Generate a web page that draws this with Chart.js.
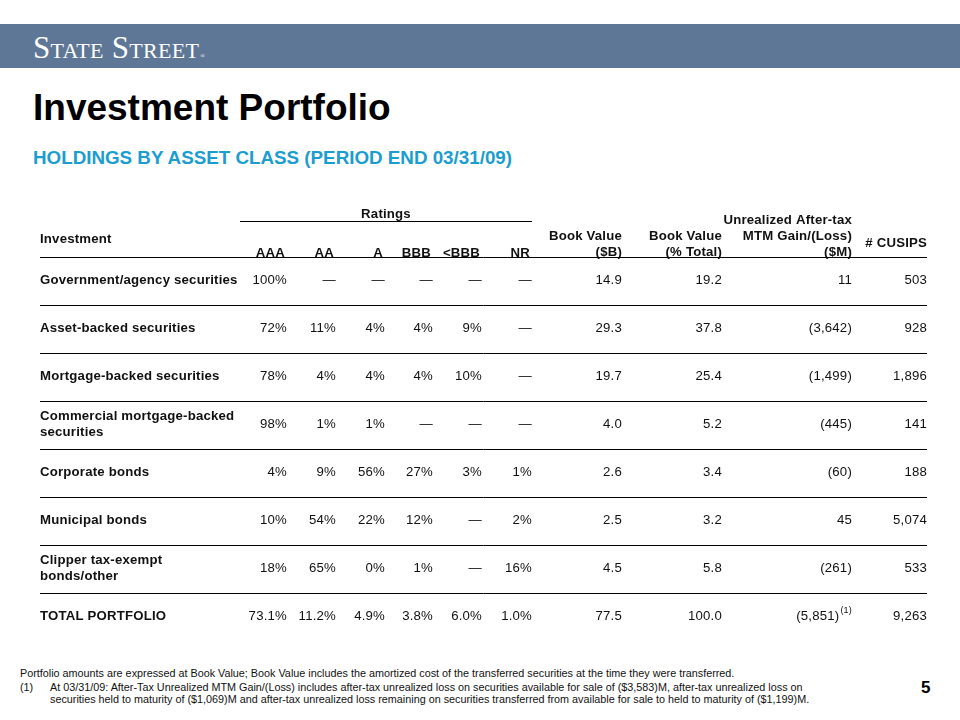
<!DOCTYPE html>
<html>
<head>
<meta charset="utf-8">
<script src="https://cdn.jsdelivr.net/npm/chart.js@4.4.1/dist/chart.umd.min.js"></script>
<style>
  html, body { margin:0; padding:0; background:#fff; }
  body { width:960px; height:720px; position:relative; overflow:hidden; font-family:"Liberation Sans", Arial, sans-serif; color:#111; }
  #band { position:absolute; left:0; top:24px; width:960px; height:44px; background:#5E7796; }
  #logo { position:absolute; left:33px; top:32px; font-family:"Liberation Serif","Times New Roman",serif; font-variant:small-caps; font-size:31px; line-height:31px; color:#fff; letter-spacing:0.3px; white-space:nowrap; }
  #logo .r { font-size:6px; font-variant:normal; vertical-align:baseline; margin-left:1px; }
  #title { position:absolute; left:33px; top:89px; font-size:37px; line-height:37px; font-weight:bold; color:#000; white-space:nowrap; }
  #subtitle { position:absolute; left:33px; top:148px; font-size:18.8px; line-height:19px; font-weight:bold; color:#1B9DD0; white-space:nowrap; }
  #chartWrap { position:absolute; left:0; top:190px; width:960px; height:460px; }
  .fn { position:absolute; font-size:10.8px; line-height:12px; color:#111; white-space:nowrap; }
  #page { position:absolute; left:921px; top:679px; font-size:17px; line-height:17px; font-weight:bold; color:#000; }
</style>
</head>
<body>
<div id="band"></div>
<div id="logo">State Street<span class="r">®</span></div>
<div id="title">Investment Portfolio</div>
<div id="subtitle">HOLDINGS BY ASSET CLASS (PERIOD END 03/31/09)</div>
<div id="chartWrap"><canvas id="c" width="960" height="460"></canvas></div>
<div class="fn" style="left:20px;top:667px;">Portfolio amounts are expressed at Book Value; Book Value includes the amortized cost of the transferred securities at the time they were transferred.</div>
<div class="fn" style="left:20px;top:681px;">(1)</div>
<div class="fn" style="left:50px;top:681px;">At 03/31/09: After-Tax Unrealized MTM Gain/(Loss) includes after-tax unrealized loss on securities available for sale of ($3,583)M, after-tax unrealized loss on</div>
<div class="fn" style="left:50px;top:693px;">securities held to maturity of ($1,069)M and after-tax unrealized loss remaining on securities transferred from available for sale to held to maturity of ($1,199)M.</div>
<div id="page">5</div>
<script>
// ---------- DATA ----------
const categories = [
  "Government/agency securities",
  "Asset-backed securities",
  "Mortgage-backed securities",
  "Commercial mortgage-backed securities",
  "Corporate bonds",
  "Municipal bonds",
  "Clipper tax-exempt bonds/other",
  "TOTAL PORTFOLIO"
];
const categoryLines = [
  ["Government/agency securities"],
  ["Asset-backed securities"],
  ["Mortgage-backed securities"],
  ["Commercial mortgage-backed", "securities"],
  ["Corporate bonds"],
  ["Municipal bonds"],
  ["Clipper tax-exempt", "bonds/other"],
  ["TOTAL PORTFOLIO"]
];
const ratingLabels = ["AAA", "AA", "A", "BBB", "<BBB", "NR"];
const ratingAAA  = [100, 72, 78, 98, 4, 10, 18, 73.1];
const ratingAA   = [null, 11, 4, 1, 9, 54, 65, 11.2];
const ratingA    = [null, 4, 4, 1, 56, 22, 0, 4.9];
const ratingBBB  = [null, 4, 4, null, 27, 12, 1, 3.8];
const ratingLtBBB = [null, 9, 10, null, 3, null, null, 6.0];
const ratingNR   = [null, null, null, null, 1, 2, 16, 1.0];
const bookValueB   = [14.9, 29.3, 19.7, 4.0, 2.6, 2.5, 4.5, 77.5];
const bookValuePct = [19.2, 37.8, 25.4, 5.2, 3.4, 3.2, 5.8, 100.0];
const mtmGainLoss  = [11, -3642, -1499, -445, -60, 45, -261, -5851];
const cusips       = [503, 928, 1896, 141, 188, 5074, 533, 9263];
const headerBookB   = ["Book Value", "($B)"];
const headerBookPct = ["Book Value", "(% Total)"];
const headerMtm     = ["Unrealized After-tax", "MTM Gain/(Loss)", "($M)"];
const headerCusips  = ["# CUSIPS"];
const headerRatings = "Ratings";
const headerInvestment = "Investment";
const totalFootnoteMark = "(1)";

// ---------- LAYOUT (positions along the x scale) ----------
const COLX = { label:40, ratingsStart:240, AAA:287, AA:336, A:385, BBB:433, LtBBB:482, NR:532, bookB:622, bookPct:722, mtm:852, cusips:927 };
const TOTAL_ROW = categories.length - 1;

// ---------- FORMATTERS ----------
const dash = "\u2014";
const fmtPct = (v, i) => v == null ? dash : (i === TOTAL_ROW ? v.toFixed(1) : String(v)) + "%";
const fmt1 = v => v.toFixed(1);
const fmtMtm = v => v < 0 ? "(" + Math.abs(v).toLocaleString("en-US") + ")" : v.toLocaleString("en-US");
const fmtInt = v => v.toLocaleString("en-US");

const valueColumns = [
  { key:"AAA",   values:ratingAAA,   fmt:fmtPct },
  { key:"AA",    values:ratingAA,    fmt:fmtPct },
  { key:"A",     values:ratingA,     fmt:fmtPct },
  { key:"BBB",   values:ratingBBB,   fmt:fmtPct },
  { key:"LtBBB", values:ratingLtBBB, fmt:fmtPct },
  { key:"NR",    values:ratingNR,    fmt:fmtPct },
  { key:"bookB", values:bookValueB,  fmt:fmt1 },
  { key:"bookPct", values:bookValuePct, fmt:fmt1 },
  { key:"mtm",   values:mtmGainLoss, fmt:fmtMtm },
  { key:"cusips", values:cusips,     fmt:fmtInt }
];

const datasets = [{
  label: "Investment",
  kind: "label",
  data: categories.map((c, i) => ({ x: COLX.label, y: i })),
  pointRadius: 0
}].concat(valueColumns.map(col => ({
  label: col.key,
  kind: "value",
  colKey: col.key,
  fmt: col.fmt,
  raw: col.values,
  data: col.values.map((v, i) => ({ x: COLX[col.key], y: i })),
  pointRadius: 0
})));

const FONT = '"Liberation Sans", Arial, sans-serif';
const TEXT = "#111";
const BOLD = "bold 13.2px " + FONT;
const REG = "13.2px " + FONT;

const tablePlugin = {
  id: "tableText",
  afterDatasetsDraw(chart) {
    const ctx = chart.ctx;
    const xs = chart.scales.x;
    const T = chart.chartArea.top;
    ctx.save();
    ctx.fillStyle = TEXT;
    ctx.textBaseline = "middle";
    if ("letterSpacing" in ctx) ctx.letterSpacing = "0.2px";

    // header
    ctx.font = BOLD;
    const rl = xs.getPixelForValue(COLX.ratingsStart), rr = xs.getPixelForValue(COLX.NR);
    ctx.textAlign = "center";
    ctx.fillText(headerRatings, (rl + rr) / 2, T - 43);
    ctx.strokeStyle = "#000";
    ctx.lineWidth = 1;
    ctx.beginPath();
    ctx.moveTo(rl, T - 36 + 0.5);
    ctx.lineTo(rr, T - 36 + 0.5);
    ctx.stroke();
    ctx.textAlign = "left";
    ctx.fillText(headerInvestment, xs.getPixelForValue(COLX.label), T - 18);
    ctx.textAlign = "right";
    const rkeys = ["AAA", "AA", "A", "BBB", "LtBBB", "NR"];
    ratingLabels.forEach((lab, k) => ctx.fillText(lab, xs.getPixelForValue(COLX[rkeys[k]]) - 2, T - 4));
    const multi = (lines, key) => {
      const x = xs.getPixelForValue(COLX[key]);
      const n = lines.length;
      lines.forEach((ln, j) => ctx.fillText(ln, x, T - 5 - 16 * (n - 1 - j)));
    };
    multi(headerBookB, "bookB");
    multi(headerBookPct, "bookPct");
    multi(headerMtm, "mtm");
    ctx.fillText(headerCusips[0], xs.getPixelForValue(COLX.cusips), T - 14);

    // cells
    chart.data.datasets.forEach((ds, di) => {
      const meta = chart.getDatasetMeta(di);
      meta.data.forEach((el, i) => {
        const y = el.y - 1;
        if (ds.kind === "label") {
          ctx.font = BOLD;
          ctx.textAlign = "left";
          const lines = categoryLines[i];
          const n = lines.length;
          lines.forEach((ln, j) => ctx.fillText(ln, el.x, y + (j - (n - 1) / 2) * 16));
        } else {
          ctx.font = REG;
          ctx.textAlign = "right";
          const txt = ds.fmt(ds.raw[i], i);
          if (ds.colKey === "mtm" && i === TOTAL_ROW) {
            ctx.font = "9px " + FONT;
            const sw = ctx.measureText(totalFootnoteMark).width;
            ctx.fillText(totalFootnoteMark, el.x, y - 5);
            ctx.font = REG;
            ctx.fillText(txt, el.x - sw - 1, y);
          } else {
            ctx.fillText(txt, el.x, y);
          }
        }
      });
    });
    ctx.restore();
  }
};

new Chart(document.getElementById("c"), {
  type: "scatter",
  data: { datasets },
  options: {
    responsive: false,
    animation: false,
    events: [],
    layout: { padding: { top: 67, bottom: 9, left: 40, right: 33 } },
    plugins: { legend: { display: false }, tooltip: { enabled: false } },
    scales: {
      x: { type: "linear", min: COLX.label, max: COLX.cusips, display: false },
      y: {
        type: "category",
        labels: categories,
        offset: true,
        display: true,
        ticks: { display: false, autoSkip: false },
        border: { display: false },
        grid: {
          offset: true,
          drawTicks: false,
          lineWidth: 1,
          color: c => (c.type === "tick" ? "#000" : "rgba(0,0,0,0)")
        },
        afterFit: s => { s.width = 0; }
      }
    }
  },
  plugins: [tablePlugin]
});
</script>
</body>
</html>
